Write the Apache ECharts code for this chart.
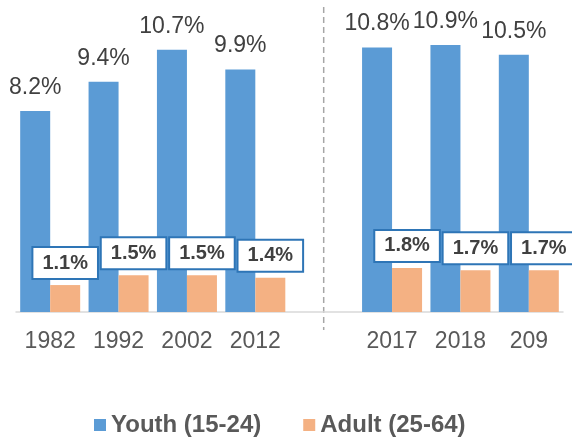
<!DOCTYPE html>
<html>
<head>
<meta charset="utf-8">
<script src="https://cdn.jsdelivr.net/npm/echarts@6/dist/echarts.min.js"></script>
<style>
  html, body { margin: 0; padding: 0; background: #fff; }
  #root { width: 572px; height: 437px; }
</style>
</head>
<body>
<div id="root"></div>
<script>
// categories, empty slot marks the break between the two periods
const categories = ['1982', '1992', '2002', '2012', '', '2017', '2018', '209']
const youth = [8.2, 9.4, 10.7, 9.9, null, 10.8, 10.9, 10.5]
const adult = [1.1, 1.5, 1.5, 1.4, null, 1.8, 1.7, 1.7]
const seriesNames = ['Youth (15-24)', 'Adult (25-64)']

const font = 'Liberation Sans, Arial, sans-serif'
const chart = echarts.init(document.getElementById('root'), null, { renderer: 'canvas' })

chart.setOption({
  animation: false,
  textStyle: { fontFamily: font },
  grid: { left: 16, right: 9, top: 18, bottom: 125, containLabel: false },
  legend: {
    left: 89,
    top: 408,
    itemWidth: 12,
    itemHeight: 12,
    itemGap: 42,
    icon: 'rect',
    textStyle: { fontSize: 24, fontWeight: 'bold', color: '#595959', fontFamily: font },
    data: seriesNames
  },
  xAxis: {
    type: 'category',
    data: categories,
    axisLine: { lineStyle: { color: '#d9d9d9', width: 1.5 } },
    axisTick: { show: false },
    axisLabel: { fontSize: 23, color: '#595959', margin: 18, fontFamily: font }
  },
  yAxis: {
    type: 'value',
    min: 0,
    max: 12,
    show: false
  },
  series: [
    {
      name: seriesNames[0],
      type: 'bar',
      data: youth,
      barWidth: 30,
      barGap: '0%',
      itemStyle: { color: '#5b9bd5' },
      label: {
        show: true,
        position: 'top',
        distance: 12,
        formatter: '{c}%',
        fontSize: 23,
        color: '#404040',
        fontFamily: font
      }
    },
    {
      name: seriesNames[1],
      type: 'bar',
      data: adult,
      barWidth: 30,
      barGap: '0%',
      itemStyle: { color: '#f4b183' },
      label: {
        show: true,
        position: 'top',
        distance: 7,
        formatter: '{c}%',
        fontSize: 20,
        fontWeight: 'bold',
        color: '#404040',
        fontFamily: font,
        backgroundColor: '#fff',
        borderColor: '#2e75b6',
        borderWidth: 2,
        padding: [5, 9, 5, 9]
      }
    }
  ]
})

// dashed divider through the empty category
const gapX = chart.convertToPixel({ xAxisIndex: 0 }, categories.indexOf(''))
chart.setOption({
  graphic: [{
    type: 'line',
    shape: { x1: gapX, y1: 7, x2: gapX, y2: 330 },
    style: { stroke: '#a6a6a6', lineWidth: 1.5, lineDash: [6, 4] }
  }]
})
</script>
</body>
</html>
